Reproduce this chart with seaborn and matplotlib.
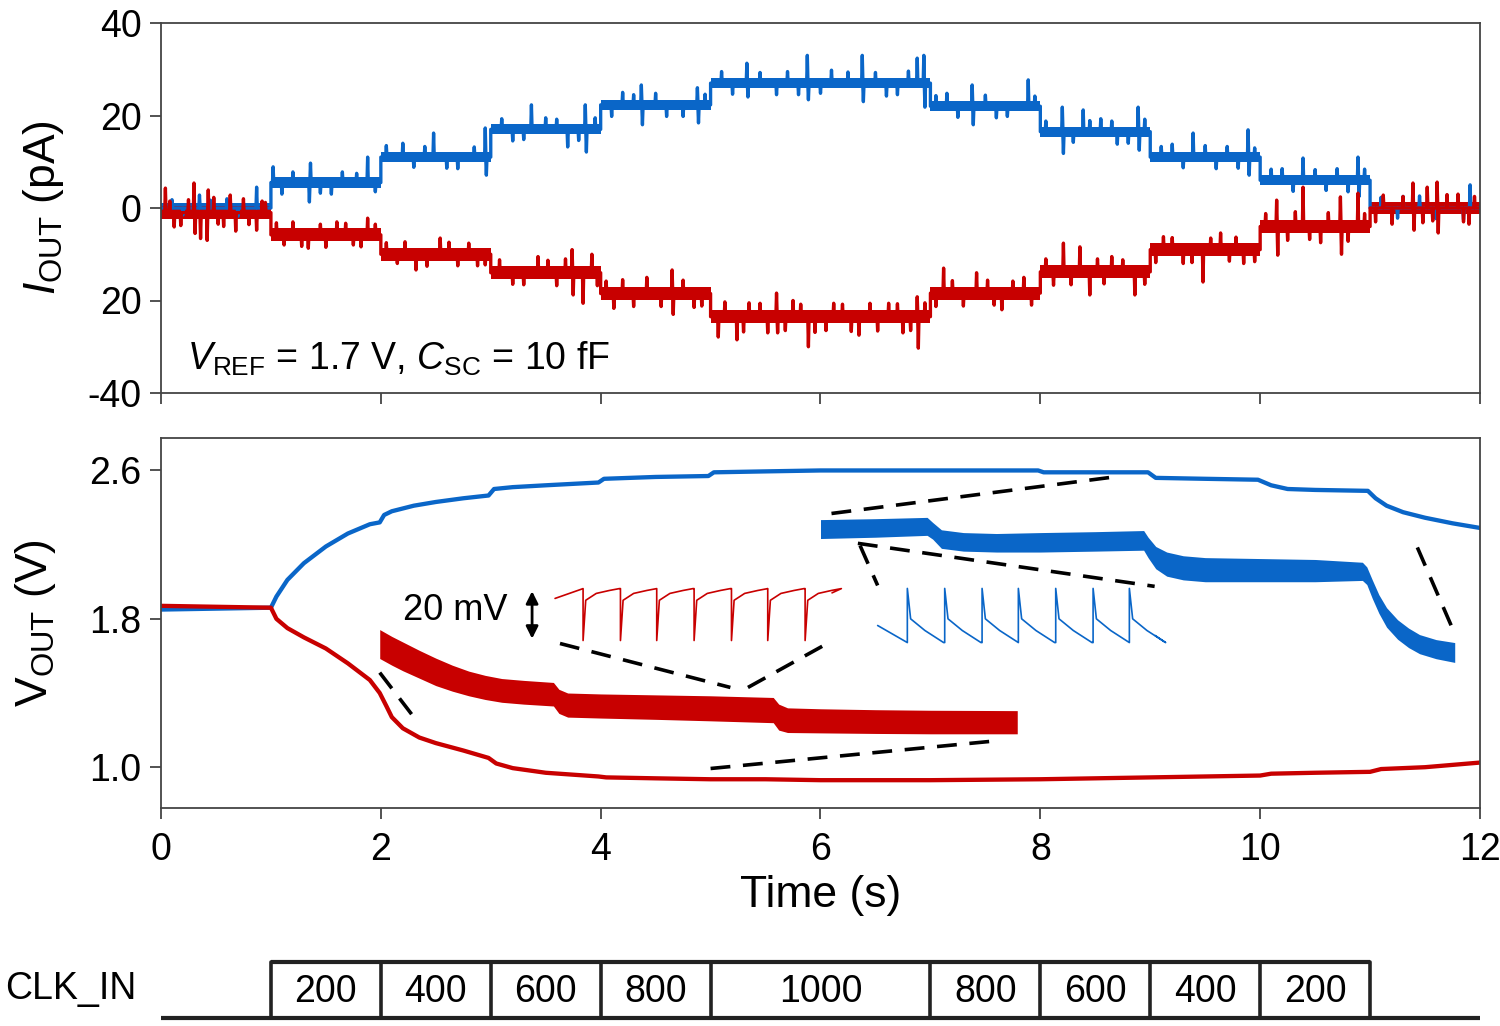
import numpy as np
import matplotlib
matplotlib.use("Agg")
import matplotlib.pyplot as plt
import seaborn as sns

# ===== data =====
SEG_EDGES = [0, 1, 2, 3, 4, 5, 7, 8, 9, 10, 11, 12]          # s
CLK_EDGES = [1, 2, 3, 4, 5, 7, 8, 9, 10, 11]
CLK_LABELS = ["200", "400", "600", "800", "1000", "800", "600", "400", "200"]

# top panel: I_OUT step levels (pA) per segment
I_BLUE_LEVELS = [0.0, 5.5, 11.0, 17.0, 22.3, 27.0, 22.0, 16.5, 11.0, 6.0, 0.0]
I_RED_LEVELS = [-1.0, -5.8, -10.0, -14.0, -18.5, -23.5, -18.4, -13.8, -9.0, -4.0, 0.0]
I_BLUE_NOISE = 1.1   # half width of the fuzzy band (pA)
I_RED_NOISE = 1.4

# large spikes riding on the current traces (time s, value pA)
I_BLUE_SPIKE_T = [0.35, 0.45, 0.87, 1.02, 1.35, 1.36, 1.55, 1.78, 1.88, 2.2, 2.48, 2.7, 2.95, 2.96,
                  3.2, 3.37, 3.5, 3.70, 3.86, 3.87, 4.2, 4.37, 4.38, 4.6, 4.88, 4.89, 5.1, 5.33, 5.34,
                  5.6, 5.88, 5.89, 6.1, 6.38, 6.39, 6.6, 6.88, 6.94, 6.95, 7.15, 7.38, 7.39, 7.6, 7.89,
                  8.20, 8.21, 8.39, 8.55, 8.7, 8.89, 8.90, 9.2, 9.39, 9.6, 9.89, 9.90, 10.2, 10.39,
                  10.6, 10.89, 10.90, 11.3, 11.6, 11.91]
I_BLUE_SPIKE_V = [2.8, 1.7, 4.5, 8.9, 1.3, 9.7, 3.0, 7.5, 11.0, 14.0, 16.2, 8.5, 17.3, 7.1,
                  14.5, 22.3, 19.5, 13.2, 22.3, 12.1, 25.0, 26.6, 18.0, 19.8, 26.0, 18.4, 29.5, 31.3, 24.0,
                  24.5, 33.0, 23.4, 29.8, 33.0, 23.0, 24.2, 32.4, 33.0, 21.8, 24.8, 26.6, 18.0, 19.5, 27.7,
                  21.8, 11.8, 21.2, 19.3, 13.8, 21.8, 12.5, 13.8, 16.2, 8.5, 16.9, 7.1, 8.5, 10.8,
                  3.8, 11.0, 2.5, 2.5, -2.3, 5.0]
# small jitter that makes up the fuzz
I_BLUE_JITTER_T = [0.1, 0.2, 0.6, 0.7, 1.1, 1.2, 1.45, 1.65, 1.95, 2.05, 2.3, 2.4, 2.6, 2.85,
                   3.1, 3.3, 3.6, 3.8, 3.95, 4.1, 4.3, 4.5, 4.75, 4.95, 5.2, 5.45, 5.7, 5.8, 6.0,
                   6.25, 6.5, 6.7, 6.8, 7.05, 7.25, 7.5, 7.7, 7.95, 8.05, 8.3, 8.45, 8.65, 8.8, 8.95,
                   9.1, 9.3, 9.5, 9.7, 9.8, 9.95, 10.1, 10.3, 10.5, 10.7, 10.8, 10.95,
                   11.1, 11.25, 11.45, 11.7, 11.85]
I_BLUE_JITTER_V = [1.8, -1.5, 2.0, -1.8, 3.0, 7.8, 3.2, 7.8, 3.5, 13.5, 8.8, 13.3, 8.6, 13.2,
                   19.3, 14.8, 19.2, 14.6, 19.5, 19.8, 24.5, 24.8, 19.8, 24.6, 24.6, 29.3, 29.5, 24.5, 24.8,
                   29.4, 29.3, 24.5, 29.6, 24.3, 19.6, 24.4, 19.8, 24.2, 18.8, 14.2, 18.9, 18.8, 14.0, 19.2,
                   13.3, 8.7, 13.5, 13.3, 8.6, 13.0, 8.4, 3.6, 8.3, 8.5, 3.5, 8.4,
                   2.3, -2.2, 2.6, 2.2, -2.5]
I_RED_SPIKE_T = [0.04, 0.12, 0.30, 0.31, 0.36, 0.42, 0.43, 0.52, 0.63, 0.68, 0.75, 0.87, 0.92,
                 1.12, 1.34, 1.45, 1.6, 1.75, 1.88, 2.15, 2.32, 2.54, 2.7, 2.95,
                 3.20, 3.43, 3.74, 3.75, 3.84, 3.92, 4.12, 4.42, 4.65, 4.66, 4.85,
                 5.07, 5.24, 5.35, 5.60, 5.61, 5.75, 5.89, 6.12, 6.35, 6.62, 6.75, 6.88, 6.89,
                 7.12, 7.42, 7.65, 7.85, 8.21, 8.36, 8.45, 8.65, 8.86,
                 9.12, 9.3, 9.48, 9.64, 9.85, 10.15, 10.16, 10.39, 10.55, 10.73, 10.74, 10.89, 11.0,
                 11.2, 11.39, 11.40, 11.52, 11.61, 11.62, 11.8, 11.9]
I_RED_SPIKE_V = [4.3, -4.1, 5.4, -5.5, -6.6, -7.0, 3.9, -3.5, 2.8, -5.0, 2.0, -4.8, 1.5,
                 -8.0, -8.7, -3.5, -3.0, -8.0, -2.2, -12.0, -13.4, -6.5, -12.5, -12.3,
                 -16.5, -10.5, -9.0, -18.8, -20.6, -10.0, -21.7, -15.0, -13.4, -23.0, -21.5,
                 -27.9, -28.5, -20.5, -18.4, -27.0, -20.0, -30.0, -20.6, -27.5, -20.6, -27.0, -19.2, -30.3,
                 -13.0, -14.0, -22.0, -15.0, -7.6, -8.4, -18.8, -10.5, -18.8,
                 -6.2, -12.0, -16.0, -5.4, -12.0, 1.7, -10.2, 4.5, -7.5, 2.4, -10.0, 3.2, 6.7,
                 -3.5, 5.4, -4.8, 4.5, 5.6, -5.4, 3.0, -3.5]
I_RED_JITTER_T = [0.08, 0.18, 0.25, 0.48, 0.57, 0.8, 0.95, 1.05, 1.2, 1.28, 1.5, 1.68, 1.82, 1.95,
                  2.05, 2.22, 2.42, 2.62, 2.8, 2.88, 3.08, 3.3, 3.52, 3.6, 3.68, 3.97,
                  4.05, 4.2, 4.3, 4.55, 4.75, 4.92, 5.13, 5.3, 5.45, 5.52, 5.68, 5.82, 5.95, 6.05,
                  6.2, 6.28, 6.45, 6.52, 6.7, 6.82, 6.95, 7.05, 7.2, 7.3, 7.52, 7.58, 7.75, 7.92,
                  8.05, 8.12, 8.28, 8.52, 8.58, 8.75, 8.95, 9.05, 9.2, 9.38, 9.55, 9.72, 9.78, 9.95,
                  10.05, 10.25, 10.32, 10.45, 10.62, 10.8, 10.95, 11.05, 11.12, 11.3, 11.48, 11.57,
                  11.7, 11.85, 11.95]
I_RED_JITTER_V = [1.5, -3.8, 1.8, 2.3, -4.0, -3.6, 1.2, -3.2, -3.0, -8.3, -8.5, -3.3, -8.4, -3.5,
                  -7.5, -7.3, -12.6, -7.4, -7.6, -12.5, -11.2, -16.6, -11.3, -16.8, -11.0, -16.8,
                  -15.8, -15.5, -21.3, -21.3, -15.6, -21.2, -20.3, -26.8, -20.6, -27.0, -26.5, -20.8,
                  -26.9, -26.5, -20.8, -26.7, -20.6, -26.6, -20.7, -26.5, -20.5, -21.3, -15.7, -21.2,
                  -15.6, -21.0, -15.8, -21.0, -11.0, -16.7, -16.6, -11.0, -16.4, -11.2, -16.5,
                  -11.8, -6.4, -11.8, -6.5, -11.5, -6.3, -11.6, -1.2, -7.0, -0.8, -6.8, -1.0, -7.2,
                  -1.2, -3.0, 2.8, 2.5, -3.2, -2.8, 2.9, -3.0, 2.5]

# bottom panel: V_OUT traces (V)
V_BLUE_T = [0, 1.0, 1.05, 1.15, 1.3, 1.5, 1.7, 1.9, 1.99, 2.03, 2.1, 2.3, 2.5, 2.75, 2.98, 3.03, 3.2,
            3.5, 3.98, 4.03, 4.5, 4.98, 5.03, 5.5, 6.0, 6.5, 7.0, 7.5, 7.98, 8.03, 8.5, 8.98, 9.05,
            9.5, 9.98, 10.1, 10.25, 10.5, 10.98, 11.05, 11.15, 11.3, 11.5, 11.75, 12.0]
V_BLUE = [1.85, 1.86, 1.92, 2.01, 2.10, 2.19, 2.26, 2.31, 2.32, 2.36, 2.38, 2.41, 2.43, 2.45, 2.465,
          2.50, 2.51, 2.52, 2.535, 2.555, 2.565, 2.57, 2.59, 2.595, 2.6, 2.6, 2.6, 2.6, 2.6, 2.59,
          2.59, 2.59, 2.56, 2.555, 2.55, 2.52, 2.50, 2.495, 2.49, 2.45, 2.41, 2.375, 2.345, 2.315, 2.29]
V_RED_T = [0, 1.0, 1.05, 1.15, 1.3, 1.5, 1.7, 1.9, 1.99, 2.05, 2.1, 2.2, 2.35, 2.5, 2.75, 2.98, 3.05,
           3.2, 3.5, 3.98, 4.05, 4.5, 5.0, 5.5, 6.0, 7.0, 8.0, 8.5, 9.0, 9.5, 10.0, 10.1, 10.5, 11.0,
           11.1, 11.5, 12.0]
V_RED = [1.87, 1.86, 1.80, 1.75, 1.70, 1.64, 1.56, 1.47, 1.40, 1.33, 1.27, 1.21, 1.16, 1.13, 1.09,
         1.05, 1.02, 0.995, 0.97, 0.95, 0.945, 0.94, 0.935, 0.935, 0.93, 0.93, 0.935, 0.94, 0.945,
         0.95, 0.955, 0.965, 0.97, 0.975, 0.99, 1.0, 1.025]

# magnified insets (envelope of the dense ripple)
RED_BAND_T = [1.99, 2.1, 2.2, 2.35, 2.5, 2.65, 2.8, 2.95, 3.1, 3.3, 3.57, 3.62, 3.7, 4.0, 4.5, 5.0,
              5.57, 5.62, 5.7, 6.0, 6.5, 7.0, 7.79]
RED_BAND_HI = [1.742, 1.705, 1.675, 1.63, 1.588, 1.55, 1.518, 1.495, 1.478, 1.468, 1.457, 1.42,
               1.40, 1.395, 1.39, 1.385, 1.376, 1.34, 1.32, 1.315, 1.31, 1.307, 1.305]
RED_BAND_LO = [1.586, 1.55, 1.52, 1.48, 1.44, 1.41, 1.385, 1.365, 1.35, 1.34, 1.33, 1.29, 1.27,
               1.265, 1.258, 1.25, 1.24, 1.20, 1.187, 1.185, 1.182, 1.18, 1.18]
BLUE_BAND_T = [6.0, 6.5, 6.97, 7.02, 7.1, 7.3, 7.6, 8.0, 8.5, 8.94, 8.98, 9.05, 9.15, 9.3, 9.5,
               10.0, 10.5, 10.93, 10.97, 11.02, 11.08, 11.15, 11.25, 11.35, 11.45, 11.6, 11.77]
BLUE_BAND_HI = [2.335, 2.34, 2.347, 2.32, 2.28, 2.265, 2.26, 2.265, 2.27, 2.276, 2.24, 2.19, 2.16,
                2.14, 2.13, 2.125, 2.12, 2.105, 2.08, 2.01, 1.93, 1.86, 1.795, 1.75, 1.715, 1.688, 1.672]
BLUE_BAND_LO = [2.233, 2.24, 2.25, 2.23, 2.18, 2.165, 2.16, 2.16, 2.165, 2.17, 2.13, 2.07, 2.03,
                2.01, 2.0, 2.0, 2.0, 2.007, 1.985, 1.91, 1.83, 1.755, 1.69, 1.645, 1.612, 1.585, 1.565]

# single-period ripple insets
RED_RIPPLE_SPIKES = [3.84, 4.18, 4.51, 4.85, 5.19, 5.52, 5.86]
RED_RIPPLE_START = (3.585, 1.91)
RED_RIPPLE_END = (6.105, 1.94)
RED_RIPPLE_DT = [0.0, 0.0, 0.024, 0.12, 0.24, 0.33]          # after each spike
RED_RIPPLE_V = [1.963, 1.683, 1.90, 1.937, 1.953, 1.963]
BLUE_RIPPLE_SPIKES = [6.79, 7.13, 7.47, 7.80, 8.14, 8.48, 8.81]
BLUE_RIPPLE_START = (6.52, 1.764)
BLUE_RIPPLE_END = (9.045, 1.71)
BLUE_RIPPLE_DT = [0.0, 0.0, 0.03, 0.16, 0.33]
BLUE_RIPPLE_V = [1.672, 1.964, 1.80, 1.737, 1.672]

# dashed zoom guides: (t0, t1), (v0, v1)
GUIDE_T = [(1.99, 2.29), (5.0, 7.63), (3.63, 5.18), (5.34, 6.11),
           (6.10, 8.71), (6.34, 9.04), (6.36, 6.52), (11.43, 11.77)]
GUIDE_V = [(1.51, 1.278), (0.993, 1.144), (1.667, 1.43), (1.43, 1.683),
           (2.368, 2.568), (2.207, 1.975), (2.195, 1.98), (2.185, 1.72)]

SCALE_BAR_T = 3.376
SCALE_BAR_V = (1.678, 1.964)

I_TICKS = [-40, -20, 0, 20, 40]
I_TICKLABELS = ["-40", "20", "0", "20", "40"]
V_TICKS = [1.0, 1.8, 2.6]
T_TICKS = [0, 2, 4, 6, 8, 10, 12]

BLUE = "#0a66c8"
RED = "#c80000"
SPINE = "#444444"


def step_trace(levels, spike_t, spike_v, w=0.006):
    """Step-wise trace with spikes inserted inside each segment."""
    pts = []
    spikes = sorted(zip(spike_t, spike_v))
    for i, lv in enumerate(levels):
        a, b = SEG_EDGES[i], SEG_EDGES[i + 1]
        pts.append((a, lv))
        for t, v in spikes:
            if a < t < b:
                pts += [(t - w, lv), (t, v), (t + w, lv)]
        pts.append((b, lv))
    pts = np.array(pts)
    return pts[:, 0], pts[:, 1]


def level_trace(levels):
    t, v = [], []
    for i, lv in enumerate(levels):
        t += [SEG_EDGES[i], SEG_EDGES[i + 1]]
        v += [lv, lv]
    return np.array(t), np.array(v)


def ripple(start, spikes, dts, vals, end):
    t, v = [start[0]], [start[1]]
    for s in spikes:
        t += [s + d for d in dts]
        v += list(vals)
    t.append(end[0]); v.append(end[1])
    return t, v


sns.set_theme(style="ticks")
plt.rcParams["font.family"] = ["Liberation Sans", "DejaVu Sans"]
plt.rcParams["mathtext.fontset"] = "custom"
plt.rcParams["mathtext.rm"] = "Liberation Sans"
plt.rcParams["mathtext.it"] = "Liberation Sans:italic"
plt.rcParams["mathtext.bf"] = "Liberation Sans:bold"
plt.rcParams["text.color"] = "black"
plt.rcParams["axes.labelcolor"] = "black"

fig = plt.figure(figsize=(15, 10.26), dpi=100)
L, W = 161 / 1500, 1319 / 1500
ax1 = fig.add_axes([L, 1 - 393 / 1026, W, 370 / 1026])
ax2 = fig.add_axes([L, 1 - 808 / 1026, W, 370 / 1026])
ax3 = fig.add_axes([L, 1 - 1024 / 1026, W, 74 / 1026])

# --- top: I_OUT ---
for lv, noise, st, sv, jt, jv, col in [
        (I_BLUE_LEVELS, I_BLUE_NOISE, I_BLUE_SPIKE_T, I_BLUE_SPIKE_V, I_BLUE_JITTER_T, I_BLUE_JITTER_V, BLUE),
        (I_RED_LEVELS, I_RED_NOISE, I_RED_SPIKE_T, I_RED_SPIKE_V, I_RED_JITTER_T, I_RED_JITTER_V, RED)]:
    tl, vl = level_trace(lv)
    ax1.fill_between(tl, vl - noise, vl + noise, color=col, lw=0)
    t, v = step_trace(lv, st + jt, sv + jv)
    sns.lineplot(x=t, y=v, sort=False, estimator=None, color=col, lw=2.4, ax=ax1)
ax1.set_xlim(0, 12); ax1.set_ylim(-40, 40)
ax1.set_xticks(T_TICKS); ax1.set_xticklabels([])
ax1.set_yticks(I_TICKS); ax1.set_yticklabels(I_TICKLABELS)
ax1.set_ylabel(r"$I_{\mathrm{OUT}}$ (pA)", fontsize=32)
ax1.yaxis.set_label_coords(-0.072, 0.5)
ax1.text(0.02, 0.062, r"$V_{\mathrm{REF}}$ = 1.7 V, $C_{\mathrm{SC}}$ = 10 fF", fontsize=27,
         transform=ax1.transAxes, va="baseline", ha="left")

# --- bottom: V_OUT ---
sns.lineplot(x=V_BLUE_T, y=V_BLUE, sort=False, estimator=None, color=BLUE, lw=3.1, ax=ax2)
sns.lineplot(x=V_RED_T, y=V_RED, sort=False, estimator=None, color=RED, lw=3.1, ax=ax2)
ax2.fill_between(RED_BAND_T, RED_BAND_LO, RED_BAND_HI, color=RED, lw=0)
ax2.fill_between(BLUE_BAND_T, BLUE_BAND_LO, BLUE_BAND_HI, color=BLUE, lw=0)
rt, rv = ripple(RED_RIPPLE_START, RED_RIPPLE_SPIKES, RED_RIPPLE_DT, RED_RIPPLE_V, RED_RIPPLE_END)
sns.lineplot(x=rt, y=rv, sort=False, estimator=None, color=RED, lw=1.2, ax=ax2)
bt, bv = ripple(BLUE_RIPPLE_START, BLUE_RIPPLE_SPIKES, BLUE_RIPPLE_DT, BLUE_RIPPLE_V, BLUE_RIPPLE_END)
sns.lineplot(x=bt, y=bv, sort=False, estimator=None, color=BLUE, lw=1.2, ax=ax2)
for gt, gv in zip(GUIDE_T, GUIDE_V):
    ax2.plot(gt, gv, color="black", lw=2.6, dashes=(5.5, 3.5))
ax2.annotate("", xy=(SCALE_BAR_T, SCALE_BAR_V[1]), xytext=(SCALE_BAR_T, SCALE_BAR_V[0]),
             arrowprops=dict(arrowstyle="<|-|>", color="black", lw=2, mutation_scale=18))
ax2.text(2.675, 1.845, "20 mV", fontsize=26, ha="center", va="center")
ax2.set_xlim(0, 12); ax2.set_ylim(0.78, 2.775)
ax2.set_xticks(T_TICKS); ax2.set_yticks(V_TICKS)
ax2.set_yticklabels([f"{v:.1f}" for v in V_TICKS])
ax2.set_xlabel("Time (s)", fontsize=32)
ax2.xaxis.set_label_coords(0.5, -0.182)
ax2.set_ylabel(r"V$_{\mathrm{OUT}}$ (V)", fontsize=32)
ax2.yaxis.set_label_coords(-0.078, 0.5)

for ax in (ax1, ax2):
    for sp in ax.spines.values():
        sp.set_color(SPINE); sp.set_linewidth(1.3)
    ax.tick_params(direction="out", length=8, width=1.3, color=SPINE, labelcolor="black",
                   labelsize=27, pad=6)
ax2.tick_params(axis="x", pad=9)

# --- CLK_IN timing strip ---
ax3.set_xlim(0, 12); ax3.set_ylim(0, 74)
ax3.axis("off")
base, top = 6, 62
ax3.plot([0, 12], [base, base], color="#222222", lw=3, solid_capstyle="butt")
ax3.plot([CLK_EDGES[0], CLK_EDGES[-1]], [top, top], color="#222222", lw=3, solid_capstyle="butt")
for e in CLK_EDGES:
    ax3.plot([e, e], [base, top], color="#222222", lw=2.6)
for a, b, lab in zip(CLK_EDGES[:-1], CLK_EDGES[1:], CLK_LABELS):
    ax3.text((a + b) / 2, (base + top) / 2 - 2, lab, fontsize=27, ha="center", va="center")
fig.text(5 / 1500, 1 - 989 / 1026, "CLK_IN", fontsize=27, ha="left", va="center")

fig.savefig("out.png", dpi=100)
